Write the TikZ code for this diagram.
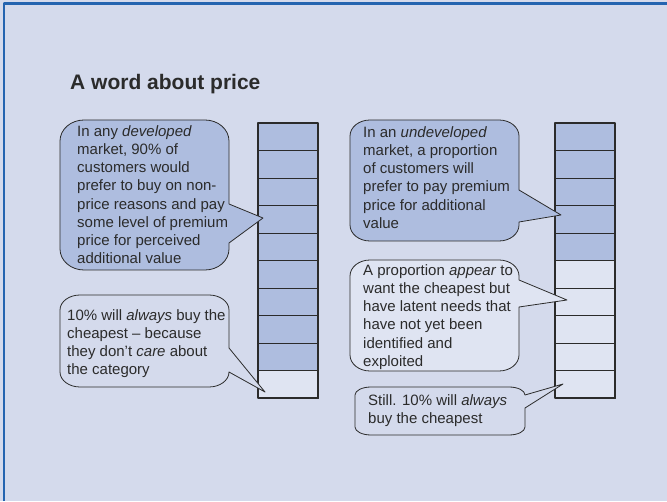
\documentclass[tikz,border=0pt]{standalone}
\usepackage{fontspec}
\setmainfont{Liberation Sans}
\usetikzlibrary{positioning}
\definecolor{slidebg}{HTML}{D4DAEC}
\definecolor{slideedge}{HTML}{2464B0}
\definecolor{cellblue}{HTML}{AEBDDF}
\definecolor{celllite}{HTML}{DFE4F2}
\definecolor{inkgrey}{HTML}{2B2B2B}
\tikzset{corner x/.store in=\crx, corner y/.store in=\cry,
         corner x=20, corner y=16}
% rounded callout with a wedge on its right side:
% [style]{left}{top}{right}{bottom}{wedge top}{wedge bottom}{tip}
\newcommand{\bubble}[8][]{%
  \draw[#1] (#2,#3-\cry) arc[start angle=180,end angle=90,x radius=\crx pt,y radius=\cry pt]
    -- (#4-\crx,#3) arc[start angle=90,end angle=0,x radius=\crx pt,y radius=\cry pt]
    -- (#4,#6) -- (#8) -- (#4,#7)
    -- (#4,#5+\cry) arc[start angle=0,end angle=-90,x radius=\crx pt,y radius=\cry pt]
    -- (#2+\crx,#5) arc[start angle=270,end angle=180,x radius=\crx pt,y radius=\cry pt] -- cycle;}

\begin{document}
\begin{tikzpicture}[x=1pt,y=1pt,line join=round,
      bub/.style={draw=inkgrey,line width=0.8pt,fill=cellblue},
      bubl/.style={draw=inkgrey,line width=0.8pt,fill=celllite},
      bubp/.style={draw=inkgrey,line width=0.8pt,fill=slidebg},
      tx/.style={anchor=north west,align=left,inner sep=0pt,text=inkgrey,
                 font=\fontsize{15}{18.2}\selectfont}]

    % ================= slide =================
    \useasboundingbox (0,0) rectangle (667,501);
    \fill[slidebg] (0,0) rectangle (667,501);
    \draw[slideedge,line width=2.2pt] (4,0) -- (4,497.5) -- (667,497.5);
    \node[anchor=base west,inner sep=0pt,text=inkgrey,
          font=\fontsize{21}{25}\selectfont\bfseries] (ttl) at (70,411)
      {A word about price};

    % ================= the two bars =================
    \foreach \i in {0,...,9}{
      \ifnum\i<9 \def\fc{cellblue}\else\def\fc{celllite}\fi
      \draw[draw=inkgrey,line width=0.9pt,fill=\fc]
        (258,378-27.5*\i) rectangle (318,350.5-27.5*\i);
    }
    \draw[line width=1.8pt,draw=inkgrey] (258,103) rectangle (318,378);

    \foreach \i in {0,...,9}{
      \ifnum\i<5 \def\fc{cellblue}\else\def\fc{celllite}\fi
      \draw[draw=inkgrey,line width=0.9pt,fill=\fc]
        (555,378-27.5*\i) rectangle (615,350.5-27.5*\i);
    }
    \draw[line width=1.8pt,draw=inkgrey] (555,103) rectangle (615,378);

    % ================= callouts =================
    \coordinate (tipA) at (263,283);
    \coordinate (tipB) at (265,109);
    \coordinate (tipC) at (561,286);
    \coordinate (tipD) at (567,201);
    \coordinate (tipE) at (563,117);

    \bubble[bub,corner x=24,corner y=21]{60}{381}{229}{231}{297}{258}{tipA}
    \node[tx] (txtA) at (77,375.7)
      {In any \emph{developed}\\market, 90\% of\\customers would\\
       prefer to buy on non-\\price reasons and pay\\some level of premium\\
       price for perceived\\additional value};

    \bubble[bubp,corner x=20,corner y=15]{60}{206}{229}{114}{153}{129}{tipB}
    \node[tx] (txtB) at (67,192)
      {10\% will \emph{always} buy the\\cheapest -- because\\
       they don't \emph{care} about\\the category};

    \bubble[bub]{350}{381}{519}{260}{311}{279}{tipC}
    \node[tx] (txtC) at (363,374.7)
      {In an \emph{undeveloped}\\market, a proportion\\of customers will\\
       prefer to pay premium\\price for additional\\value};

    \bubble[bubl]{350}{241}{519}{130}{221}{194}{tipD}
    \node[tx] (txtD) at (363,236.7)
      {A proportion \emph{appear} to\\want the cheapest but\\
       have latent needs that\\have not yet been\\identified and\\exploited};

    \bubble[bubp,corner x=16,corner y=8]{355}{114}{525}{66}{106}{93}{tipE}
    \node[tx] (txtE) at (368,107)
      {Still. 10\% will \emph{always}\\buy the cheapest};
  \end{tikzpicture}
\end{document}
